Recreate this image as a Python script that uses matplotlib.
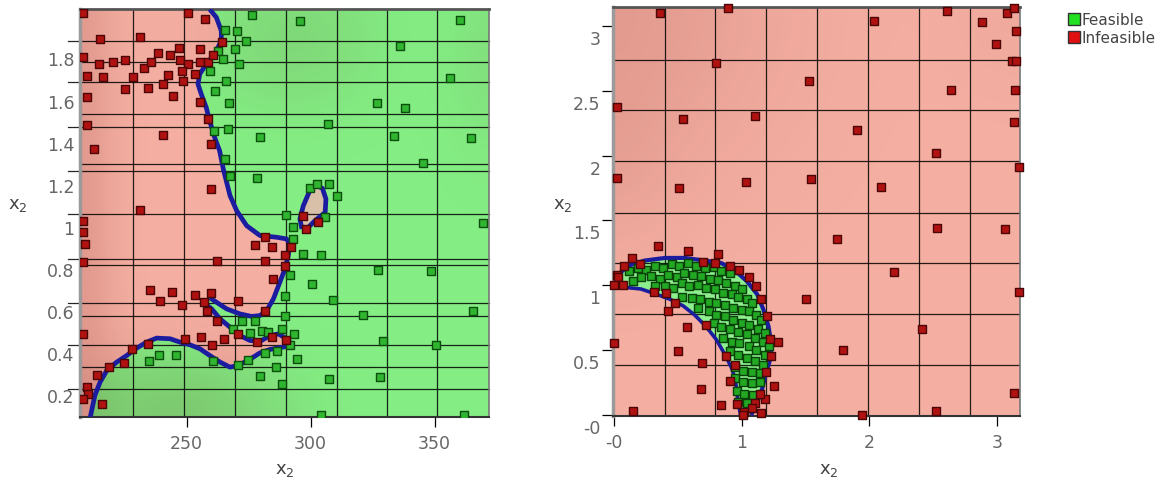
import numpy as np
import matplotlib.pyplot as plt
from matplotlib.lines import Line2D
from matplotlib.transforms import ScaledTranslation, blended_transform_factory

plt.rcParams['font.family'] = 'DejaVu Sans'
plt.rcParams['mathtext.default'] = 'regular'

# ---- left panel: sampled points ----
left_feas_x = [276.2, 295.7, 265.5, 270.4, 273.8, 269.5, 262.8, 264.5, 271.1, 259.4, 265.9, 261.4,
               267.2, 360.2, 336.0, 356.2, 326.9, 338.0, 307.1, 266.8, 279.6, 261.0, 333.6, 364.9,
               345.4, 265.5, 267.5, 278.2, 299.7, 302.4, 307.4, 310.5, 290.1, 293.0, 305.8, 369.6,
               293.0, 297.1, 304.4, 291.7, 300.7, 327.3, 348.4, 308.9, 289.7, 289.7, 321.0, 365.6,
               272.2, 277.6, 268.8, 275.5, 280.3, 282.9, 288.3, 293.4, 291.7, 329.3, 350.5, 281.6,
               286.3, 274.9, 270.8, 260.5, 235.0, 238.7, 245.6, 294.4, 285.9, 279.6, 288.5, 307.4,
               327.9, 304.4, 361.8]
left_feas_y = [2.007, 1.976, 1.934, 1.931, 1.884, 1.844, 1.836, 1.797, 1.773, 1.741, 1.694, 1.647,
               1.587, 1.983, 1.860, 1.705, 1.588, 1.564, 1.489, 1.465, 1.428, 1.454, 1.433, 1.420,
               1.303, 1.322, 1.240, 1.232, 1.183, 1.202, 1.202, 1.149, 1.057, 1.001, 1.049, 1.019,
               0.943, 0.872, 0.867, 0.772, 0.729, 0.797, 0.793, 0.655, 0.674, 0.576, 0.584, 0.603,
               0.553, 0.551, 0.516, 0.495, 0.508, 0.500, 0.516, 0.492, 0.437, 0.458, 0.437, 0.401,
               0.409, 0.366, 0.342, 0.361, 0.361, 0.390, 0.390, 0.371, 0.334, 0.290, 0.255, 0.276,
               0.287, 0.108, 0.108]

left_infeas_x = [208.3, 250.7, 257.4, 215.1, 231.2, 208.3, 214.8, 220.4, 225.3, 232.8, 235.5, 238.6,
                 243.3, 246.9, 247.3, 250.7, 255.4, 255.4, 258.7, 260.8, 264.1, 210.0, 216.1, 228.5,
                 225.1, 234.6, 240.3, 242.6, 244.6, 248.0, 248.7, 253.4, 255.4, 258.7, 259.7, 210.0,
                 210.0, 212.6, 240.6, 259.7, 231.2, 208.3, 208.1, 209.0, 208.3, 262.1, 277.6, 281.6,
                 284.3, 281.6, 289.7, 289.7, 292.3, 285.0, 235.2, 244.0, 239.3, 248.0, 253.4, 259.7,
                 257.0, 258.3, 262.4, 270.8, 281.6, 270.8, 255.7, 260.1, 265.1, 278.2, 284.3, 290.1,
                 249.3, 234.6, 227.8, 208.3, 218.8, 213.7, 224.7, 210.0, 210.4, 208.3, 215.7, 297.1,
                 298.1, 303.1]
left_infeas_y = [2.018, 2.018, 1.987, 1.892, 1.904, 1.809, 1.773, 1.781, 1.792, 1.753, 1.784, 1.828,
                 1.816, 1.849, 1.794, 1.773, 1.844, 1.784, 1.784, 1.816, 1.879, 1.715, 1.710, 1.710,
                 1.655, 1.658, 1.678, 1.721, 1.623, 1.741, 1.694, 1.726, 1.591, 1.512, 1.394, 1.615,
                 1.484, 1.370, 1.436, 1.180, 1.081, 1.030, 0.975, 0.919, 0.832, 0.840, 0.914, 0.951,
                 0.903, 0.840, 0.867, 0.816, 0.903, 0.753, 0.701, 0.693, 0.650, 0.631, 0.677, 0.685,
                 0.643, 0.603, 0.551, 0.650, 0.603, 0.492, 0.476, 0.437, 0.469, 0.453, 0.476, 0.465,
                 0.469, 0.445, 0.418, 0.492, 0.334, 0.295, 0.353, 0.239, 0.205, 0.184, 0.160, 1.054,
                 0.990, 1.025]

# ---- left panel: feasibility boundary ----
curve_a_x = [259.3, 262.0, 264.0, 264.0, 261.3, 257.9, 255.3, 254.6, 255.9, 257.9, 259.3, 261.3,
             263.3, 264.8, 267.5, 270.2, 274.2, 279.6, 286.3, 290.3, 291.7, 291.0, 289.7, 287.6,
             285.0, 282.3, 279.6, 276.2, 271.5, 266.1, 262.1, 259.4]
curve_a_y = [2.034, 1.995, 1.931, 1.884, 1.821, 1.773, 1.726, 1.678, 1.631, 1.568, 1.504, 1.425,
             1.362, 1.275, 1.149, 1.077, 1.006, 0.959, 0.951, 0.943, 0.919, 0.864, 0.801, 0.737,
             0.658, 0.603, 0.579, 0.575, 0.587, 0.611, 0.642, 0.663]
curve_b_x = [257.4, 260.1, 263.5, 267.5, 271.5, 275.5, 279.6, 283.6, 287.0, 290.3, 291.7]
curve_b_y = [0.635, 0.611, 0.563, 0.524, 0.484, 0.461, 0.456, 0.484, 0.492, 0.469, 0.453]
curve_c_x = [291.7, 287.6, 283.6, 279.6, 275.5, 270.8, 267.5, 263.5, 259.4, 255.4, 251.4, 247.3,
             243.3, 237.9, 233.9, 229.8, 225.8, 221.8, 217.8, 215.1, 213.0, 211.3, 211.0]
curve_c_y = [0.434, 0.427, 0.418, 0.402, 0.371, 0.342, 0.334, 0.358, 0.389, 0.421, 0.440, 0.453,
             0.469, 0.472, 0.453, 0.424, 0.389, 0.358, 0.318, 0.263, 0.200, 0.105, 0.090]
loop_x = [296.5, 295.7, 297.1, 299.5, 302.2, 304.8, 306.2, 305.9, 301.8, 299.1, 296.5]
loop_y = [0.990, 1.038, 1.101, 1.167, 1.199, 1.183, 1.133, 1.069, 1.030, 0.998, 0.990]

# ---- right panel: sampled points ----
right_feas_x = [0.12, 0.19, 0.25, 0.32, 0.38, 0.45, 0.51, 0.58, 0.64, 0.71, 0.78, 0.84, 0.91,
                0.15, 0.21, 0.29, 0.36, 0.42, 0.49, 0.55, 0.62, 0.68, 0.75, 0.81, 0.88, 0.95, 1.00,
                0.32, 0.40, 0.46, 0.53, 0.59, 0.66, 0.72, 0.79, 0.85, 0.92, 0.97, 1.04, 1.08,
                0.53, 0.61, 0.67, 0.74, 0.80, 0.87, 0.93, 1.00, 1.06, 1.11, 1.15,
                0.66, 0.74, 0.80, 0.87, 0.93, 1.00, 1.06, 1.13, 1.18,
                0.78, 0.84, 0.91, 0.97, 1.04, 1.10, 1.17, 1.21,
                0.85, 0.92, 0.98, 1.06, 1.11, 1.18,
                0.91, 0.97, 1.04, 1.10, 1.17,
                0.95, 1.01, 1.08, 1.14,
                0.95, 1.01, 1.08, 1.14,
                0.96, 1.02, 1.09,
                0.97, 1.04]
right_feas_y = [1.11, 1.13, 1.12, 1.15, 1.13, 1.16, 1.15, 1.17, 1.15, 1.13, 1.14, 1.11, 1.09,
                1.03, 1.06, 1.07, 1.05, 1.08, 1.06, 1.09, 1.08, 1.07, 1.05, 1.04, 1.02, 0.99, 0.97,
                0.99, 0.99, 0.98, 1.02, 0.99, 1.00, 0.98, 0.97, 0.94, 0.93, 0.91, 0.89, 0.86,
                0.91, 0.90, 0.89, 0.87, 0.86, 0.85, 0.82, 0.81, 0.80, 0.77, 0.73,
                0.82, 0.80, 0.77, 0.76, 0.73, 0.71, 0.69, 0.66, 0.63,
                0.71, 0.68, 0.66, 0.64, 0.62, 0.59, 0.56, 0.53,
                0.59, 0.56, 0.55, 0.53, 0.50, 0.46,
                0.49, 0.46, 0.44, 0.41, 0.38,
                0.37, 0.34, 0.33, 0.32,
                0.28, 0.25, 0.24, 0.25,
                0.18, 0.16, 0.15,
                0.10, 0.09]

right_infeas_x = [0.34, 0.58, 0.81, 0.14, 0.08, 0.20, 0.02, 0.03, 0.00, 0.07, 0.31, 0.41, 0.48,
                  0.42, 0.70, 0.79, 0.91, 0.98, 1.06, 1.11, 1.15, 1.20, 1.22, 1.28, 1.23, 1.19,
                  1.25, 1.18, 1.14, 1.10, 1.15, 1.08, 1.02, 1.01, 0.96, 0.84, 0.68, 0.15, 0.57,
                  0.72, 0.50, 0.69, 0.88, 0.91, 0.95, 0.00,
                  0.36, 0.89, 2.04, 2.61, 2.88, 3.08, 3.13, 2.99, 3.15, 0.80, 3.12, 3.15, 1.53,
                  2.64, 3.14, 0.02, 0.54, 1.10, 1.90, 3.13, 2.52, 3.17, 0.02, 0.51, 1.03, 1.54,
                  2.09, 2.53, 3.06, 1.75, 2.19, 1.50, 3.17, 2.41, 1.79, 3.13, 2.52, 1.94]
right_infeas_y = [1.30, 1.26, 1.24, 1.21, 1.15, 1.16, 1.08, 1.06, 1.00, 1.00, 0.95, 0.94, 0.86,
                  0.80, 1.18, 1.17, 1.15, 1.12, 1.06, 0.99, 0.89, 0.76, 0.58, 0.56, 0.45, 0.33,
                  0.22, 0.12, 0.16, 0.09, 0.01, 0.05, 0.02, 0.00, 0.08, 0.07, 0.20, 0.03, 0.68,
                  0.69, 0.49, 0.40, 0.45, 0.26, 0.38, 0.55,
                  3.10, 3.14, 3.04, 3.12, 3.03, 3.10, 3.14, 2.86, 2.96, 2.72, 2.73, 2.73, 2.58,
                  2.51, 2.51, 2.38, 2.28, 2.31, 2.20, 2.26, 2.02, 1.91, 1.83, 1.75, 1.80, 1.82,
                  1.76, 1.44, 1.43, 1.36, 1.10, 0.89, 0.95, 0.66, 0.50, 0.17, 0.03, 0.00]

# ---- right panel: feasible band edges ----
band_outer_x = [0.00, 0.03, 0.11, 0.24, 0.40, 0.55, 0.71, 0.84, 0.95, 1.04, 1.12, 1.17, 1.21,
                1.23, 1.23, 1.19, 1.16, 1.12, 1.08]
band_outer_y = [1.00, 1.08, 1.15, 1.19, 1.21, 1.21, 1.19, 1.17, 1.11, 1.03, 0.93, 0.81, 0.68,
                0.55, 0.45, 0.32, 0.20, 0.09, 0.01]
band_inner_x = [0.99, 0.97, 0.95, 0.92, 0.87, 0.80, 0.72, 0.63, 0.54, 0.44, 0.33, 0.21, 0.11, 0.00]
band_inner_y = [0.00, 0.10, 0.27, 0.36, 0.46, 0.58, 0.68, 0.77, 0.84, 0.89, 0.93, 0.97, 0.98, 0.98]

# ---- axes, ticks, grid ----
left_xlim, left_ylim = (207.0, 372.0), (0.097, 2.034)
right_xlim, right_ylim = (-0.01, 3.18), (-0.012, 3.147)
left_xticks, left_xlabels = [250, 300, 350], ['250', '300', '350']
left_yticks = [0.2, 0.4, 0.6, 0.8, 1.0, 1.2, 1.4, 1.6, 1.8]
left_ylabels = ['0.2', '0.4', '0.6', '0.8', '1', '1.2', '1.4', '1.6', '1.8']
right_xticks, right_xlabels = [0, 1, 2, 3], ['-0', '1', '2', '3']
right_yticks = [0, 0.5, 1, 1.5, 2, 2.5, 3]
right_ylabels = ['-0', '0.5', '1', '1.5', '2', '2.5', '3']

left_vgrid = [228.4, 249.0, 269.5, 290.0, 310.6, 331.0, 351.0]
left_hgrid = [1.781, 1.536, 1.299, 0.821, 0.579, 0.334]
left_hticklines = [1.884, 1.686, 1.473, 1.264, 1.062, 0.848, 0.639, 0.437, 0.228]
right_vgrid = [0.40, 0.79, 1.19, 1.59, 1.99, 2.39, 2.79]
right_hgrid = [0.385, 0.78, 1.17, 1.56, 1.96, 2.35, 2.74]

RED_BG, GREEN_BG, BAND_BG = '#f5afa2', '#84ee84', '#8ef08e'
BLUE = '#1c1ca0'


def shade(ax, xlim, ylim, blobs):
    xs = np.linspace(xlim[0], xlim[1], 240)
    ys = np.linspace(ylim[0], ylim[1], 240)
    X, Y = np.meshgrid(xs, ys)
    a = np.zeros_like(X)
    for cx, cy, rx, ry, amp in blobs:
        a += amp * np.exp(-((X - cx) / rx) ** 2 - ((Y - cy) / ry) ** 2)
    img = np.zeros(X.shape + (4,))
    img[..., 0] = 0.35
    img[..., 3] = np.clip(a, 0, 0.4)
    ax.imshow(img, extent=(xlim[0], xlim[1], ylim[0], ylim[1]), origin='lower',
              aspect='auto', zorder=1.5, interpolation='bilinear')


def style_frame(ax):
    for side, col, lw in [('left', '#9a9a9a', 2.5), ('top', '#555555', 2.0),
                          ('right', '#777777', 1.2), ('bottom', '#333333', 1.5)]:
        ax.spines[side].set_color(col)
        ax.spines[side].set_linewidth(lw)
    ax.tick_params(labelsize=12.5, labelcolor='#666666', color='black', width=0.9)


fig = plt.figure(figsize=(11.63, 4.85), dpi=100)
ax1 = fig.add_axes([0.0688, 0.138, 0.3517, 0.841])
ax2 = fig.add_axes([0.527, 0.140, 0.350, 0.843])

# left panel
ax1.set_facecolor(GREEN_BG)
poly_x = [left_xlim[0]] + curve_a_x + curve_b_x + curve_c_x + [left_xlim[0]]
poly_y = [left_ylim[1]] + curve_a_y + curve_b_y + curve_c_y + [0.0]
ax1.fill(poly_x, poly_y, color=RED_BG, lw=0, zorder=1)
ax1.fill(loop_x, loop_y, color='#d8c0a8', lw=0, zorder=1)
shade(ax1, left_xlim, left_ylim, [(207, 1.0, 14, 4.0, 0.12), (292, 1.9, 35, 0.35, 0.09),
                                  (245, 0.12, 45, 0.3, 0.15), (372, 1.8, 18, 0.5, 0.05)])
trans1 = blended_transform_factory(ax1.transAxes, ax1.transData)
for y in left_hgrid:
    ax1.axhline(y, color='black', lw=0.9, alpha=0.85, zorder=2)
for y in left_hticklines:
    ax1.plot([-0.03, 1], [y, y], transform=trans1, color='black', lw=0.9, alpha=0.85,
             zorder=2, clip_on=False)
for x in left_vgrid:
    ax1.axvline(x, color='black', lw=0.9, alpha=0.85, zorder=2)
for cx, cy in [(curve_a_x, curve_a_y), (curve_b_x, curve_b_y), (curve_c_x, curve_c_y), (loop_x, loop_y)]:
    ax1.plot(cx, cy, color=BLUE, lw=3.4, zorder=3, solid_capstyle='butt', solid_joinstyle='round')
ax1.scatter(left_feas_x, left_feas_y, s=34, marker='s', c='#2fb52f', edgecolors='#0d4d0d',
            linewidths=1.0, zorder=4)
ax1.scatter(left_infeas_x, left_infeas_y, s=34, marker='s', c='#b01212', edgecolors='#4a0505',
            linewidths=1.0, zorder=5)
ax1.set_xlim(left_xlim)
ax1.set_ylim(left_ylim)
ax1.set_xticks(left_xticks, left_xlabels)
ax1.set_yticks(left_yticks, left_ylabels)
style_frame(ax1)
ax1.tick_params(axis='x', direction='out', length=7, pad=5)
ax1.tick_params(axis='y', length=0, pad=4)

# right panel
ax2.set_facecolor(RED_BG)
ax2.fill(band_outer_x + band_inner_x, band_outer_y + band_inner_y, color=BAND_BG, lw=0, zorder=1)
shade(ax2, right_xlim, right_ylim, [(0.0, 3.15, 1.3, 1.3, 0.11), (0.0, 1.9, 0.5, 0.7, 0.04),
                                    (3.2, 3.1, 0.6, 0.6, 0.03)])
for y in right_hgrid:
    ax2.axhline(y, color='black', lw=0.9, alpha=0.85, zorder=2)
for x in right_vgrid:
    ax2.axvline(x, color='black', lw=0.9, alpha=0.85, zorder=2)
ax2.plot(band_outer_x, band_outer_y, color=BLUE, lw=3.0, zorder=3)
ax2.plot(band_inner_x, band_inner_y, color=BLUE, lw=2.6, zorder=3)
ax2.scatter(right_feas_x, right_feas_y, s=38, marker='s', c='#22a822', edgecolors='#0a400a',
            linewidths=1.0, zorder=4)
ax2.scatter(right_infeas_x, right_infeas_y, s=34, marker='s', c='#b01212', edgecolors='#4a0505',
            linewidths=1.0, zorder=5, clip_on=False)
ax2.set_xlim(right_xlim)
ax2.set_ylim(right_ylim)
ax2.set_xticks(right_xticks, right_xlabels)
ax2.set_yticks(right_yticks, right_ylabels)
style_frame(ax2)
ax2.tick_params(axis='x', direction='out', length=7, pad=5)
ax2.tick_params(axis='y', direction='out', length=8, pad=1)
shift = ScaledTranslation(0, -0.11, fig.dpi_scale_trans)
for lab in ax2.get_yticklabels():
    lab.set_transform(lab.get_transform() + shift)

# axis titles
for x, y in [(18, 205), (285, 470), (563, 205), (829, 470)]:
    fig.text(x / 1163, 1 - y / 485, 'x$_2$', fontsize=13, color='#444444', ha='center', va='center')

handles = [Line2D([], [], marker='s', ls='none', markerfacecolor='#22e022', markeredgecolor='#333333',
                  markersize=9),
           Line2D([], [], marker='s', ls='none', markerfacecolor='#e01010', markeredgecolor='#333333',
                  markersize=9)]
fig.legend(handles, ['Feasible', 'Infeasible'], loc='upper left', bbox_to_anchor=(1058 / 1163, 0.995),
           frameon=False, fontsize=11, handlelength=0.7, handletextpad=0.15, labelspacing=0.2,
           borderpad=0.2, labelcolor='#444444')

fig.savefig('out.png', dpi=100)
